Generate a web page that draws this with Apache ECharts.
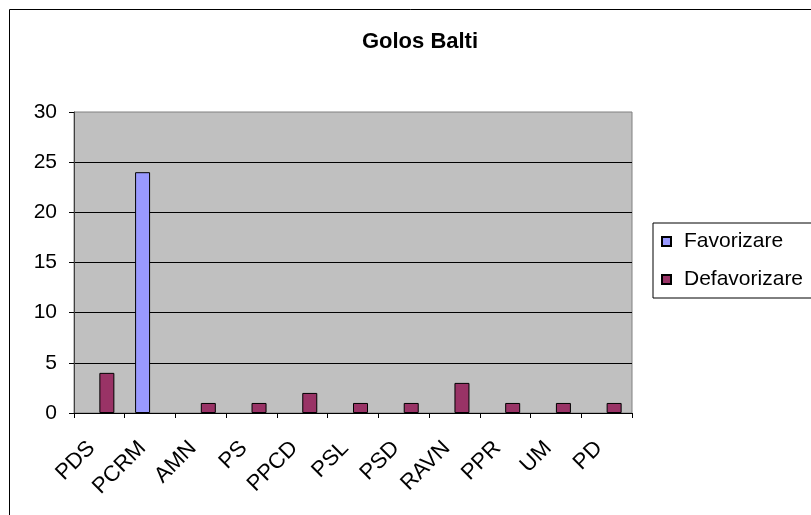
<!DOCTYPE html>
<html>
<head>
<meta charset="utf-8">
<script src="https://cdn.jsdelivr.net/npm/echarts@6/dist/echarts.min.js"></script>
<style>
html,body{margin:0;padding:0;background:#fff;}
#chart{width:811px;height:515px;}
</style>
</head>
<body>
<div id="chart"></div>
<script>
const categories = ['PDS','PCRM','AMN','PS','PPCD','PSL','PSD','RAVN','PPR','UM','PD'];
const favorizare = [0,24,0,0,0,0,0,0,0,0,0];
const defavorizare = [4,0,1,1,2,1,1,3,1,1,1];
const yTicks = [0,5,10,15,20,25,30];

const FONT = 'Liberation Sans, Arial, sans-serif';
const toBars = arr => arr.map(v => v === 0 ? '-' : v);

const chart = echarts.init(document.getElementById('chart'), null, {renderer:'canvas'});
chart.setOption({
  backgroundColor:'#ffffff',
  animation:false,
  title:{
    text:'Golos Balti',
    left:415, top:26, textAlign:'center',
    textStyle:{fontFamily:FONT, fontSize:22, fontWeight:'bold', color:'#000'}
  },
  graphic:[{
    type:'rect',
    shape:{x:9.5, y:9.5, width:900, height:700},
    style:{fill:'none', stroke:'#000', lineWidth:1},
    silent:true, z:-10
  }],
  legend:{
    orient:'vertical',
    left:653, top:223,
    padding:[8,30,8,8],
    itemWidth:9, itemHeight:9,
    itemGap:17,
    icon:'rect',
    backgroundColor:'#fff',
    borderColor:'#000', borderWidth:1,
    textStyle:{fontFamily:FONT, fontSize:21, color:'#000', padding:[0,0,0,8]},
    data:['Favorizare','Defavorizare']
  },
  grid:{
    left:74, top:112, width:558, height:301,
    show:true, backgroundColor:'#C0C0C0', borderColor:'#808080', borderWidth:1
  },
  xAxis:{
    type:'category',
    data:categories,
    axisLine:{lineStyle:{color:'#000', width:1}},
    axisTick:{show:true, length:5, lineStyle:{color:'#000'}},
    axisLabel:{rotate:45, fontFamily:FONT, fontSize:22, color:'#000', margin:24, padding:[0,11,0,0], interval:0}
  },
  yAxis:{
    type:'value',
    min:yTicks[0], max:yTicks[yTicks.length-1], interval:5,
    axisLine:{show:true, lineStyle:{color:'#404040', width:1}},
    axisTick:{show:true, length:5, lineStyle:{color:'#000'}},
    axisLabel:{fontFamily:FONT, fontSize:21, color:'#000', margin:17},
    splitLine:{show:true, showMaxLine:false, lineStyle:{color:'#000', width:1}}
  },
  series:[
    {
      name:'Favorizare', type:'bar', data:toBars(favorizare),
      barWidth:15, barGap:'0%',
      itemStyle:{color:'#9999FF', borderColor:'#000', borderWidth:1}
    },
    {
      name:'Defavorizare', type:'bar', data:toBars(defavorizare),
      barWidth:15, barGap:'0%',
      itemStyle:{color:'#993366', borderColor:'#000', borderWidth:1}
    }
  ]
});
</script>
</body>
</html>
